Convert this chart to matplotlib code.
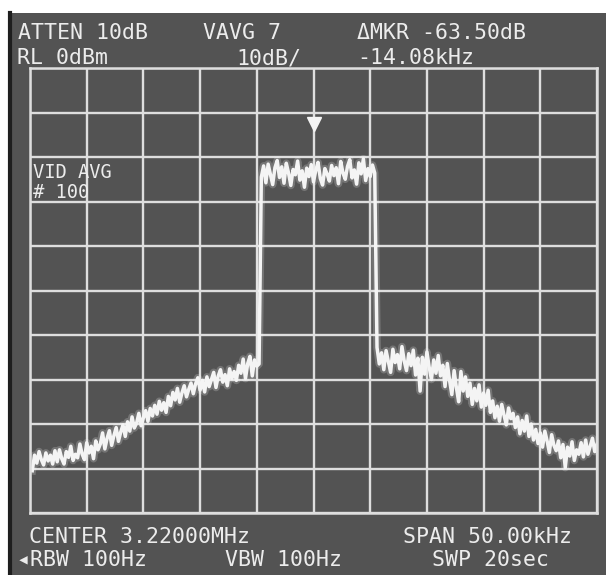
import numpy as np
import matplotlib.pyplot as plt

# spectrum analyser screen: center 3.22 MHz, span 50 kHz, RL 0 dBm, 10 dB/div
center_mhz = 3.22
span_khz = 50.0
ref_level = 0
db_per_div = 10

# trace levels (dBm), one sweep point every 0.2 kHz
left_skirt = [
    -90.5, -87.0, -88.8, -86.2, -88.0, -89.2, -86.5, -88.3, -87.0, -89.0,
    -86.0, -88.5, -85.8, -87.8, -89.0, -86.2, -87.5, -85.0, -88.2, -86.8,
    -87.6, -84.5, -86.8, -88.0, -84.2, -86.5, -85.0, -87.8, -83.8, -85.8,
    -84.5, -82.0, -85.6, -83.2, -81.5, -84.8, -82.6, -80.8, -83.9, -81.8,
    -80.2, -82.8, -79.5, -81.6, -78.4, -80.9, -79.8, -77.6, -80.4, -78.6,
    -77.0, -79.4, -76.5, -78.2, -75.8, -77.8, -74.9, -76.9, -75.2, -77.4,
    -73.8, -75.9, -72.9, -74.6, -72.0, -75.1, -73.0, -71.4, -73.9, -72.2,
    -70.8, -73.2, -71.0, -69.6, -72.4, -70.2, -72.8, -69.4, -71.6, -70.0,
    -68.4, -71.8, -69.2, -67.8, -70.6, -68.9, -71.4, -67.6, -69.8, -68.2,
    -70.2, -66.8, -68.6, -65.4, -69.8, -66.4, -64.8, -69.2, -65.6, -67.0,
    -66.5,
]
main_band = [
    -24.5, -22.0, -25.8, -21.6, -23.9, -26.2, -22.4, -20.8, -24.6, -22.2,
    -25.9, -21.4, -23.6, -26.4, -22.8, -24.0, -20.9, -25.2, -23.1, -26.8,
    -22.5, -24.4, -21.7, -25.6, -23.0, -21.2, -24.8, -26.3, -22.6, -23.8,
    -25.4, -21.9, -24.2, -22.4, -26.0, -21.0, -23.6, -25.0, -22.1, -20.6,
    -24.7, -22.9, -26.1, -21.3, -23.8, -20.4, -25.3, -22.6, -24.4, -21.8, -23.6,
]
right_skirt = [
    -62.8, -66.5, -64.0, -67.8, -63.5, -65.9, -68.4, -63.2, -66.2, -64.4,
    -67.6, -62.6, -65.8, -68.0, -64.2, -66.9, -63.4, -69.0, -65.2, -72.6,
    -65.0, -68.8, -63.8, -67.2, -70.0, -65.6, -68.6, -64.6, -69.2, -66.8,
    -71.6, -66.4, -70.2, -73.4, -68.0, -71.8, -75.0, -68.2, -72.6, -69.4,
    -73.8, -70.8, -75.6, -72.0, -74.8, -71.2, -76.2, -73.0, -75.8, -72.4,
    -77.4, -74.8, -78.6, -76.0, -79.4, -75.6, -78.0, -80.2, -76.4, -78.8,
    -77.6, -80.8, -78.4, -82.2, -79.2, -81.6, -78.2, -82.8, -80.0, -83.6,
    -81.2, -84.4, -82.0, -85.2, -81.6, -83.8, -86.4, -82.4, -84.8, -86.0,
    -83.8, -87.6, -84.6, -89.8, -85.2, -87.2, -84.0, -88.2, -85.8, -86.8,
    -84.2, -87.4, -83.6, -86.8, -85.0, -83.2, -86.2, -84.6,
]
marker_khz = 0.0
marker_level = -12.5

top_labels = [("ATTEN 10dB", 18, 33), ("VAVG 7", 203, 33), ("ΔMKR -63.50dB", 357, 33),
              ("RL 0dBm", 17, 58), ("10dB/", 236, 58), ("-14.08kHz", 357, 58)]
bottom_labels = [("CENTER 3.22000MHz", 29, 537), ("SPAN 50.00kHz", 403, 537),
                 ("◂RBW 100Hz", 17, 560), ("VBW 100Hz", 225, 560), ("SWP 20sec", 432, 560)]
overlay_labels = [("VID AVG", 33, 172), ("# 100", 33, 193)]

level = np.array(left_skirt + main_band + right_skirt)
step = span_khz / 10 * 0.04
freq = -span_khz / 2 + step * np.arange(1, len(level) + 1)

W, H = 606, 575
screen = '#535353'
grid_col = '#dedede'
ink = '#f4f4f4'

fig = plt.figure(figsize=(W / 100, H / 100), dpi=100, facecolor='white')
# photo of the screen: white strip at top and left
bg = fig.add_axes([10 / W, 0, 1 - 10 / W, 1 - 13 / H])
bg.set_facecolor(screen)
bg.set_xticks([])
bg.set_yticks([])
for s in bg.spines.values():
    s.set_visible(False)
bg.spines['left'].set_visible(True)
bg.spines['left'].set_color('#1e1e1e')
bg.spines['left'].set_linewidth(3)

ax = fig.add_axes([30 / W, 1 - 513 / H, 567 / W, 445 / H])
ax.set_facecolor(screen)
ax.set_xlim(-span_khz / 2, span_khz / 2)
ax.set_ylim(ref_level - 10 * db_per_div, ref_level)
ax.set_xticks(np.linspace(-span_khz / 2, span_khz / 2, 11))
ax.set_yticks(np.arange(ref_level - 10 * db_per_div, ref_level + 1, db_per_div))
ax.tick_params(length=0, labelbottom=False, labelleft=False)
ax.grid(True, color=grid_col, linewidth=1.7)
for s in ax.spines.values():
    s.set_color(grid_col)
    s.set_linewidth(1.8)

ax.plot(freq, level, color='white', lw=5.5, alpha=0.2, solid_joinstyle='round')
ax.plot(freq, level, color=ink, lw=2.5, solid_joinstyle='round')
ax.plot(marker_khz, marker_level, marker='v', ms=10, color=ink, mec=ink)

font = dict(family=['DejaVu Sans Mono', 'DejaVu Sans'], color='#ececec', va='center', ha='left')
for txt, px, py in top_labels + bottom_labels:
    fig.text(px / W, 1 - py / H, txt, fontsize=15.5, **font)
for txt, px, py in overlay_labels:
    fig.text(px / W, 1 - py / H, txt, fontsize=13.5, **font)

fig.savefig('out.png', dpi=100, facecolor='white')
